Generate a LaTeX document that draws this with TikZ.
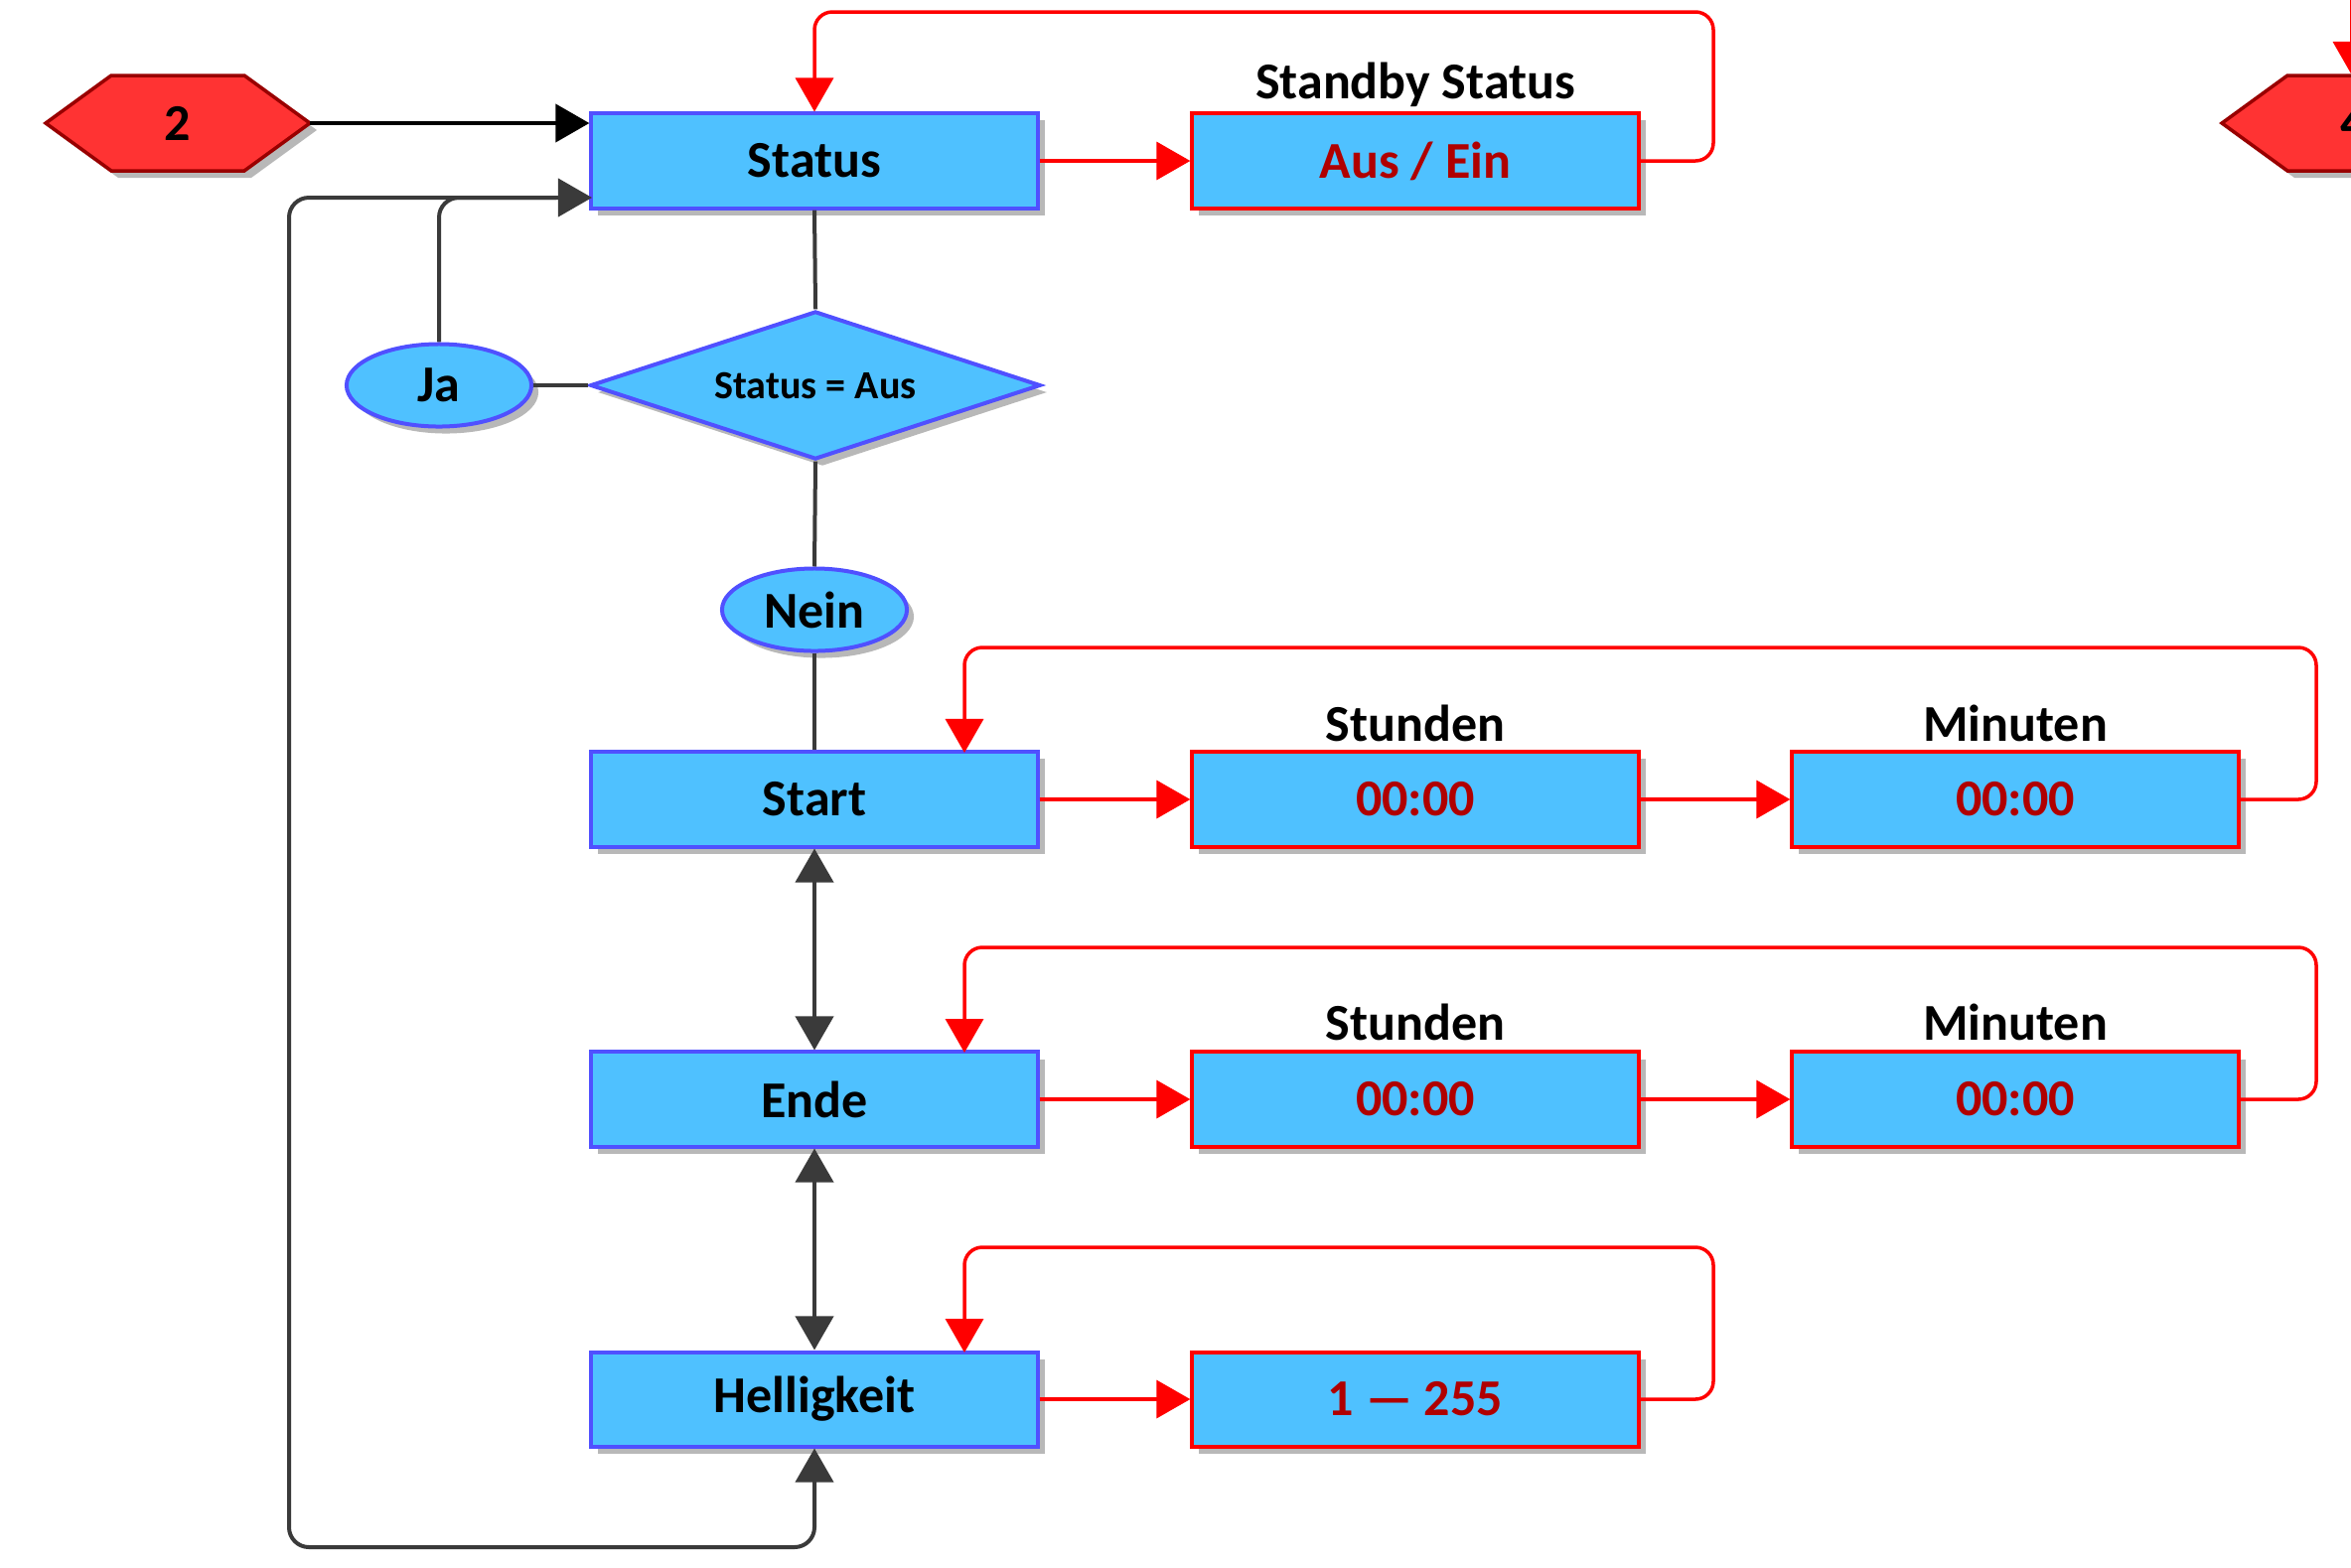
\documentclass[tikz,border=0pt]{standalone}
\usepackage{fontspec}
\setmainfont{Carlito}
\usetikzlibrary{arrows.meta,shapes.geometric,shadows,calc}
\definecolor{boxfill}{HTML}{4FC1FF}
\definecolor{boxblue}{HTML}{5050FF}
\definecolor{lred}{HTML}{FF0000}
\definecolor{vred}{HTML}{B00000}
\definecolor{hexfill}{HTML}{FF3333}
\definecolor{hexline}{HTML}{990000}
\definecolor{conncol}{HTML}{3A3A3A}
\tikzset{
  shad/.style={drop shadow={shadow xshift=0.07cm, shadow yshift=-0.07cm, opacity=0.28, fill=black}},
  bigfont/.style={font=\bfseries\fontsize{14.8}{17}\selectfont},
  bluebox/.style={rectangle, draw=boxblue, fill=boxfill, line width=0.04cm,
    minimum width=4.49cm, minimum height=0.95cm, inner sep=0pt, shad, bigfont},
  redbox/.style={bluebox, draw=lred, text=vred},
  lbl/.style={bigfont, inner sep=0pt},
  decision/.style={diamond, aspect=3.04, draw=boxblue, fill=boxfill, line width=0.04cm,
    minimum width=4.53cm, minimum height=1.49cm, inner sep=0pt, shad,
    font=\bfseries\fontsize{11.4}{13}\selectfont},
  oval/.style={ellipse, draw=boxblue, fill=boxfill, line width=0.04cm,
    minimum width=1.86cm, minimum height=0.83cm, inner sep=0pt, shad, bigfont},
  hexshape/.style={fill=hexfill, draw=hexline, line width=0.035cm, shad},
  tip/.style={Triangle[length=0.34cm,width=0.38cm]},
  conn/.style={draw=conncol, line width=0.04cm},
  carr/.style={conn, -{Triangle[length=0.34cm,width=0.38cm]}},
  biarr/.style={conn, {Triangle[length=0.34cm,width=0.38cm]}-{Triangle[length=0.34cm,width=0.38cm]}},
  karr/.style={draw=black, line width=0.04cm, -{Triangle[length=0.34cm,width=0.38cm]}},
  redline/.style={draw=lred, line width=0.035cm},
  redarr/.style={redline, -{Triangle[length=0.34cm,width=0.38cm]}},
}
\begin{document}
\begin{tikzpicture}[x=0.01cm, y=-0.01cm]
\useasboundingbox (0,0) rectangle (2367,1578);

% hexagons
\filldraw[hexshape] (46,124) -- (112,76) -- (246,76) -- (312,124) -- (246,172) -- (112,172) -- cycle;
\node[lbl] (hex2) at (179,124) {2};
\coordinate (hex2e) at (312,124);
\filldraw[hexshape] (2237,124) -- (2303,76) -- (2437,76) -- (2503,124) -- (2437,172) -- (2303,172) -- cycle;
\node[lbl] (hex4) at (2370,124) {4};
\coordinate (hex4n) at (2368,76);
\coordinate (hex4top) at (2368,-30);

% main column
\node[bluebox] (Status) at (820,162) {Status};
\node[decision] (Dec) at (821,388) {Status = Aus};
\node[oval] (Ja) at (442,388) {Ja};
\node[oval] (Nein) at (820,614) {Nein};
\node[bluebox] (Start) at (820,805) {Start};
\node[bluebox] (Ende) at (820,1107) {Ende};
\node[bluebox] (Hell) at (820,1409) {Helligkeit};

% value boxes
\node[redbox] (AusEin) at (1425,162) {Aus / Ein};
\node[lbl] (lblSB) at (1425,85) {Standby Status};
\node[redbox] (St1) at (1425,805) {00:00};
\node[redbox] (Mi1) at (2029,805) {00:00};
\node[lbl] (lblSt1) at (1425,728) {Stunden};
\node[lbl] (lblMi1) at (2029,728) {Minuten};
\node[redbox] (St2) at (1425,1107) {00:00};
\node[redbox] (Mi2) at (2029,1107) {00:00};
\node[lbl] (lblSt2) at (1425,1029) {Stunden};
\node[lbl] (lblMi2) at (2029,1029) {Minuten};
\node[redbox] (Val) at (1425,1409) {1 — 255};

% helper coordinates
\coordinate (sIn) at (596,199);
\coordinate (jaEnd) at (560,199);
\coordinate (lb) at (291,1558);
\coordinate (r1) at (1725,12);
\coordinate (r2) at (2332,652);
\coordinate (r3) at (2332,954);
\coordinate (r4) at (1725,1256);
\coordinate (startIn) at (971,758);
\coordinate (endeIn) at (971,1060);
\coordinate (hellIn) at (971,1362);

% black / gray connectors
\draw[karr] (hex2e) -- (hex2e -| Status.west);
\draw[conn] (Status.south) -- (Dec.north);
\draw[conn] (Dec.west) -- (Ja.east);
\draw[conn] (Dec.south) -- (Nein.north);
\draw[conn] (Nein.south) -- (Start.north);
\draw[conn, rounded corners=0.2cm] (Ja.north) |- (jaEnd);
\draw[biarr, rounded corners=0.2cm] (sIn) -| (lb) -| (Hell.south);
\draw[biarr] (Start.south) -- (Ende.north);
\draw[biarr] (Ende.south) -- (Hell.north);

% red connectors
\draw[redarr] (Status.east) -- (AusEin.west);
\draw[redarr, rounded corners=0.18cm] (AusEin.east) -| (r1) -| (Status.north);
\draw[redarr] (Start.east) -- (St1.west);
\draw[redarr] (St1.east) -- (Mi1.west);
\draw[redarr, rounded corners=0.18cm] (Mi1.east) -| (r2) -| (startIn);
\draw[redarr] (Ende.east) -- (St2.west);
\draw[redarr] (St2.east) -- (Mi2.west);
\draw[redarr, rounded corners=0.18cm] (Mi2.east) -| (r3) -| (endeIn);
\draw[redarr] (Hell.east) -- (Val.west);
\draw[redarr, rounded corners=0.18cm] (Val.east) -| (r4) -| (hellIn);
\draw[redarr] (hex4top) -- (hex4n);
\end{tikzpicture}
\end{document}
